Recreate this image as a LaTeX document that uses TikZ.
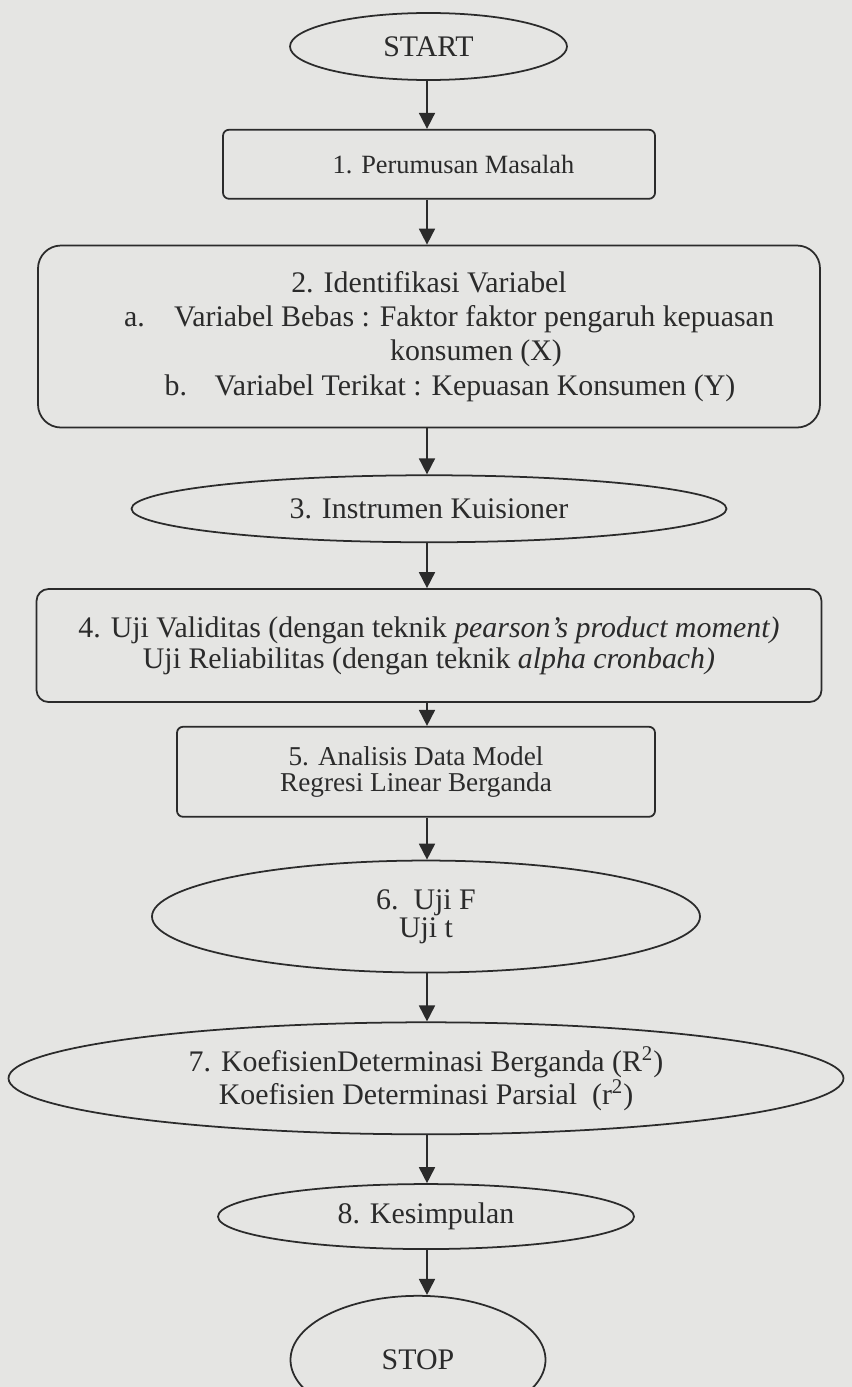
\documentclass[tikz,border=0pt]{standalone}
\usepackage{fontspec}
\setmainfont{Liberation Serif}
\usepackage{xcolor}
\usepackage{tikz}
\usetikzlibrary{arrows.meta,positioning,shapes.geometric}
\definecolor{paper}{HTML}{E5E5E3}
\definecolor{ink}{HTML}{2B2B2B}

\begin{document}
\begin{tikzpicture}[
  font=\fontsize{17}{19.5}\selectfont, text=ink,
  box/.style={draw=ink, line width=1pt, rounded corners=1.2mm, align=center, inner sep=0pt},
  oval/.style={draw=ink, line width=1pt, ellipse, align=center, inner sep=0pt},
  arr/.style={-{Triangle[length=3.2mm,width=3.2mm]}, line width=1pt, draw=ink}
]
\fill[paper] (0,0) rectangle (17.04,-27.74);
\useasboundingbox (0,0) rectangle (17.04,-27.74);
\coordinate (axis) at (8.54,0);
\node[oval, minimum width=5.54cm, minimum height=1.34cm] (start) at (8.57,-0.93) {START};
\node[box, below=9.6mm of start, xshift=2.1mm, minimum width=8.64cm, minimum height=1.38cm,
  font=\fontsize{15}{17}\selectfont] (perumusan) {\hspace*{5.8mm}1. Perumusan Masalah};
\node[box, below=9mm of perumusan, xshift=-2mm, minimum width=15.64cm, minimum height=3.64cm,
  rounded corners=4.6mm] (variabel) {2. Identifikasi Variabel\\
  \hspace*{8mm}\makebox[1cm][l]{a.}Variabel Bebas : Faktor faktor pengaruh kepuasan\\
  \hspace*{18.8mm}konsumen (X)\\
  \hspace*{8.4mm}\makebox[1cm][l]{b.}Variabel Terikat : Kepuasan Konsumen (Y)};
\node[oval, below=9.2mm of variabel, minimum width=11.9cm, minimum height=1.34cm] (instrumen)
  {3. Instrumen Kuisioner};
\node[box, below=9mm of instrumen, minimum width=15.7cm, minimum height=2.26cm,
  rounded corners=2.4mm, font=\fontsize{17}{17.5}\selectfont] (uji)
  {4. Uji Validitas (dengan teknik \textit{pearson's product moment)}\\
  Uji Reliabilitas (dengan teknik \textit{alpha cronbach)}};
\node[box, below=4.6mm of uji, xshift=-2.6mm, minimum width=9.56cm, minimum height=1.8cm,
  font=\fontsize{15.5}{15}\selectfont] (analisis) {5. Analisis Data Model\\Regresi Linear Berganda};
\node[oval, below=8.4mm of analisis, xshift=2mm, minimum width=10.96cm, minimum height=2.24cm,
  font=\fontsize{17}{16}\selectfont] (ujif) {6.\ \ Uji F\\Uji t};
\node[oval, below=9.6mm of ujif, minimum width=16.7cm, minimum height=2.24cm,
  font=\fontsize{17}{16}\selectfont] (koef)
  {7. KoefisienDeterminasi Berganda (R\textsuperscript{2})\\
  Koefisien Determinasi Parsial\ \ (r\textsuperscript{2})};
\node[oval, below=9.6mm of koef, minimum width=8.32cm, minimum height=1.3cm] (simpul) {8. Kesimpulan};
\node[oval, below=9mm of simpul, xshift=-1.6mm, minimum width=5.1cm, minimum height=2.56cm] (stop)
  {\raisebox{-2.6mm}{STOP}};
\draw[arr] (axis |- start.south) -- (axis |- perumusan.north);
\draw[arr] (axis |- perumusan.south) -- (axis |- variabel.north);
\draw[arr] (axis |- variabel.south) -- (axis |- instrumen.north);
\draw[arr] (axis |- instrumen.south) -- (axis |- uji.north);
\draw[arr] (axis |- uji.south) -- (axis |- analisis.north);
\draw[arr] (axis |- analisis.south) -- (axis |- ujif.north);
\draw[arr] (axis |- ujif.south) -- (axis |- koef.north);
\draw[arr] (axis |- koef.south) -- (axis |- simpul.north);
\draw[arr] (axis |- simpul.south) -- (axis |- stop.north);
\end{tikzpicture}
\end{document}
